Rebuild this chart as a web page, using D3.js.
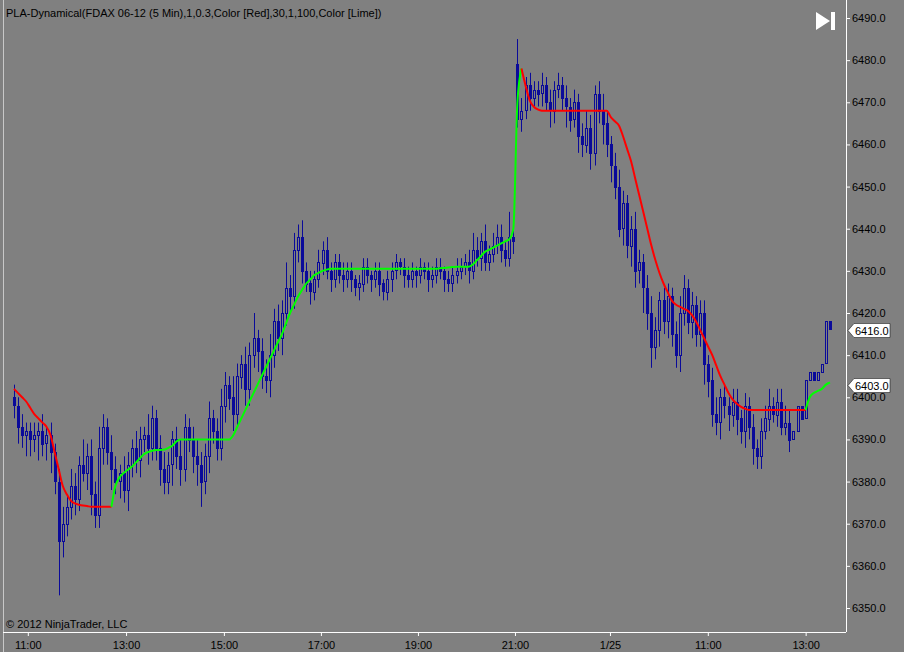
<!DOCTYPE html>
<html lang="en">
<head>
<meta charset="UTF-8">
<title>PLA-Dynamical FDAX</title>
<script src="https://d3js.org/d3.v7.min.js"></script>
<style>
  body { margin: 0; background: #808080; }
  text { font-family: "Liberation Sans", Arial, sans-serif; font-size: 11px; }
</style>
</head>
<body>
<script>
  // closes per 5-min bar
  const closes = [
    6398,6393,6391,6392,6390,6391,6392,6389,6391,6387,
    6380,6366,6370,6374,6379,6376,6384,6382,6386,6377,
    6372,6388,6393,6387,6383,6380,6382,6378,6384,6388,
    6385,6390,6391,6388,6395,6388,6383,6380,6384,6390,
    6386,6383,6393,6390,6386,6384,6380,6386,6395,6392,
    6388,6398,6403,6400,6396,6405,6408,6402,6410,6414,
    6411,6405,6404,6410,6418,6414,6420,6426,6424,6435,
    6438,6430,6427,6425,6428,6432,6435,6430,6428,6432,
    6429,6428,6430,6428,6426,6427,6431,6429,6428,6430,
    6427,6425,6428,6430,6432,6431,6429,6428,6430,6429,
    6431,6430,6428,6429,6431,6430,6428,6427,6429,6430,
    6431,6432,6430,6435,6433,6437,6432,6434,6436,6438,
    6435,6433,6438,6437,6466,6468,6474,6471,6473,6472,
    6474,6470,6468,6473,6474,6471,6469,6466,6470,6462,
    6460,6464,6458,6472,6468,6465,6460,6455,6450,6440,
    6446,6436,6440,6430,6432,6426,6420,6412,6416,6423,
    6418,6424,6415,6410,6420,6426,6418,6422,6415,6420,
    6408,6404,6396,6394,6400,6398,6396,6399,6395,6392,
    6398,6393,6388,6386,6392,6395,6398,6396,6399,6393,
    6394,6390,6392,6398,6395,6404,6406,6404,6406,6408,
    6418,6416
  ];
  const firstOpen = 6400;
  const gapOpens = { 124: 6479 };
  const wickUp = [
    3,2,3,2,2,3,2,4,2,3, 2,3,4,3,4,3,2,6,3,4,
    3,5,3,2,4,3,2,4,3,2, 4,3,2,5,3,2,3,4,3,2,
    3,4,3,2,3,4,3,3,4,2, 3,4,3,2,5,3,2,4,3,6,
    2,3,4,5,3,4,3,6,3,4, 3,4,2,3,2,3,2,3,2,2,
    2,3,2,2,1,2,2,2,1,2, 2,1,2,2,2,1,2,2,2,1,
    2,1,2,2,2,2,1,2,2,3, 2,2,3,4,3,2,4,2,3,3,
    3,2,6,3,6,3,2,3,2,2, 3,2,3,2,3,2,3,2,3,2,
    3,4,3,2,3,4,3,2,3,4, 3,2,3,4,3,2,3,4,3,2,
    3,3,2,3,4,3,2,3,2,3, 3,2,3,4,2,3,2,3,3,2,
    3,2,3,2,3,3,4,2,3,3, 4,3
  ];
  const wickDn = [
    3,4,3,5,4,3,6,3,4,5, 3,13,4,3,3,4,3,2,4,5,
    3,3,4,3,5,3,4,3,5,3, 3,4,3,4,3,3,4,3,3,5,
    3,4,3,3,4,5,6,3,4,3, 3,3,4,3,4,3,3,4,4,3,
    5,3,3,4,3,3,4,3,4,3, 3,3,2,3,2,2,3,2,3,2,
    2,3,2,3,2,3,2,2,3,2, 3,2,2,3,2,2,3,2,2,3,
    2,2,3,2,2,2,3,2,2,2, 2,2,3,2,2,3,2,2,2,2,
    3,2,2,3,2,3,2,3,2,3, 3,2,4,3,2,3,5,3,2,4,
    3,2,4,3,3,5,3,4,3,2, 4,3,5,4,3,6,4,5,3,4,
    3,4,3,3,4,3,3,4,3,3, 5,4,3,3,4,3,4,3,4,3,
    4,3,4,3,3,2,3,2,3,2, 2,3
  ];
  // PLA indicator values per bar
  const pla = [
    6402,6401,6400,6399,6397.5,6396,6395,6394,6393,6391,
    6387,6383,6379,6377,6375.5,6374.8,6374.5,6374.3,6374.2,6374,
    6374,6374,6374,6374,6374,6379,6381,6382,6382.8,6383.5,
    6384.5,6385.5,6386.5,6387,6387.3,6387.5,6387.5,6387.6,6388,6388.5,
    6389.5,6390,6390,6390,6390,6390,6390,6390,6390,6390,
    6390,6390,6390,6390,6391,6393,6395,6397,6399,6401,
    6403,6405,6407,6409,6411,6413,6415,6417.5,6420,6422,
    6424,6425.5,6427,6428,6429,6429.5,6430,6430.3,6430.5,6430.5,
    6430.5,6430.5,6430.5,6430.5,6430.5,6430.5,6430.5,6430.5,6430.5,6430.5,
    6430.5,6430.5,6430.5,6430.5,6430.5,6430.5,6430.5,6430.5,6430.5,6430.5,
    6430.5,6430.5,6430.5,6430.5,6430.5,6430.6,6430.7,6430.8,6430.9,6431,
    6431,6431,6431,6431.5,6432.5,6433.5,6434.5,6435,6435.5,6436,
    6436.5,6437,6437.5,6440,6470,6478,6474,6470.5,6469,6468.3,
    6468,6468,6468,6468,6468,6468,6468,6468,6468,6468,
    6468,6468,6468,6468,6468,6468,6468,6466.5,6465.5,6464.5,
    6462,6459,6456,6452,6448,6444,6440,6436,6432.5,6429.5,
    6427,6425,6423,6422,6421.5,6421,6420.5,6419.5,6418,6416,
    6414,6412,6410,6407.5,6405,6403,6401,6399.5,6398.5,6397.8,
    6397.3,6397,6397,6397,6397,6397,6397,6397,6397,6397,
    6397,6397,6397,6397,6397,6397,6400,6401,6401.5,6402,
    6403,6403.5
  ];
  // trend segments [start, end, colour]
  const segments = [[0, 24, "#ff0000"], [24, 125, "#00ff00"], [125, 195, "#ff0000"], [195, 201, "#00ff00"]];
  const timeTicks = [[3.4, "11:00"], [27.6, "13:00"], [51.7, "15:00"], [75.6, "17:00"], [99.5, "19:00"],
    [123.4, "21:00"], [146.8, "1/25"], [170.9, "11:00"], [195, "13:00"]];
  const priceTicks = d3.range(6350, 6491, 10);
  const lastMarks = [6416.0, 6403.0];

  const W = 904, H = 652, axisX = 846, axisY = 632;
  const svg = d3.select("body").append("svg").attr("width", W).attr("height", H);
  svg.append("rect").attr("width", W).attr("height", H).attr("fill", "#808080");
  svg.append("line").attr("x1", 3.5).attr("x2", 3.5).attr("y1", 0).attr("y2", H).attr("stroke", "#c8c8c8");

  const x = d3.scaleLinear().domain([0, 201]).range([14, 830]);
  const y = d3.scaleLinear().domain([6350, 6490]).range([608, 18]);

  // axes
  svg.append("line").attr("x1", axisX + 0.5).attr("x2", axisX + 0.5).attr("y1", 0).attr("y2", axisY)
    .attr("stroke", "#fff");
  svg.append("line").attr("x1", 3).attr("x2", axisX).attr("y1", axisY + 0.5).attr("y2", axisY + 0.5)
    .attr("stroke", "#fff");
  const yAx = svg.append("g").attr("transform", `translate(${axisX},0)`)
    .call(d3.axisRight(y).tickValues(priceTicks).tickSize(4).tickFormat(d3.format(".1f")));
  yAx.select(".domain").remove();
  yAx.selectAll("line").attr("stroke", "#fff");
  yAx.selectAll("text").attr("fill", "#000").attr("x", 6);
  const xAx = svg.append("g").attr("transform", `translate(0,${axisY})`)
    .call(d3.axisBottom(x).tickValues(timeTicks.map(d => d[0])).tickSize(4)
      .tickFormat((d, i) => timeTicks[i][1]));
  xAx.select(".domain").remove();
  xAx.selectAll("line").attr("stroke", "#fff");
  xAx.selectAll("text").attr("fill", "#000").attr("dy", "0.9em");

  // candles
  const bars = closes.map((c, i) => {
    const o = gapOpens[i] !== undefined ? gapOpens[i] : (i === 0 ? firstOpen : closes[i - 1]);
    return { i, o, c, h: Math.max(o, c) + wickUp[i], l: Math.min(o, c) - wickDn[i] };
  });
  const candleCol = "#0a0a9a";
  const g = svg.append("g");
  g.selectAll("line.wick").data(bars).enter().append("line")
    .attr("x1", d => Math.round(x(d.i)) + 0.5).attr("x2", d => Math.round(x(d.i)) + 0.5)
    .attr("y1", d => y(d.h)).attr("y2", d => y(d.l)).attr("stroke", candleCol);
  g.selectAll("rect.body").data(bars).enter().append("rect")
    .attr("x", d => Math.round(x(d.i)) - 0.5).attr("width", 2)
    .attr("y", d => Math.round(y(Math.max(d.o, d.c))) + 0.5)
    .attr("height", d => Math.max(1, Math.round(Math.abs(y(d.o) - y(d.c)))))
    .attr("fill", d => d.c >= d.o ? "#808080" : candleCol).attr("stroke", candleCol).attr("stroke-width", 1);

  // indicator
  const line = d3.line().x(i => x(i)).y(i => y(pla[i])).curve(d3.curveMonotoneX);
  segments.forEach(([s, e, col]) => {
    svg.append("path").attr("d", line(d3.range(s, e + 1))).attr("fill", "none")
      .attr("stroke", col).attr("stroke-width", 2);
  });

  // last value markers
  lastMarks.forEach(v => {
    const yy = Math.round(y(v)) + 0.5;
    svg.append("path").attr("d", `M${axisX + 2},${yy} L${axisX + 8},${yy - 7} H${axisX + 44} V${yy + 7} H${axisX + 8} Z`)
      .attr("fill", "#fff").attr("stroke", "#000").attr("stroke-width", 0.5);
    svg.append("text").attr("x", axisX + 9).attr("y", yy + 4).text(v.toFixed(1)).attr("fill", "#000");
  });

  // title, copyright, icon
  svg.append("text").attr("x", 6).attr("y", 17).attr("fill", "#000")
    .text("PLA-Dynamical(FDAX 06-12 (5 Min),1,0.3,Color [Red],30,1,100,Color [Lime])");
  svg.append("text").attr("x", 6).attr("y", 628).attr("fill", "#000").text("© 2012 NinjaTrader, LLC");
  svg.append("path").attr("d", "M816,12 L830,21 L816,30 Z").attr("fill", "#fff");
  svg.append("rect").attr("x", 831).attr("y", 12).attr("width", 4).attr("height", 18).attr("fill", "#fff");
</script>
</body>
</html>
